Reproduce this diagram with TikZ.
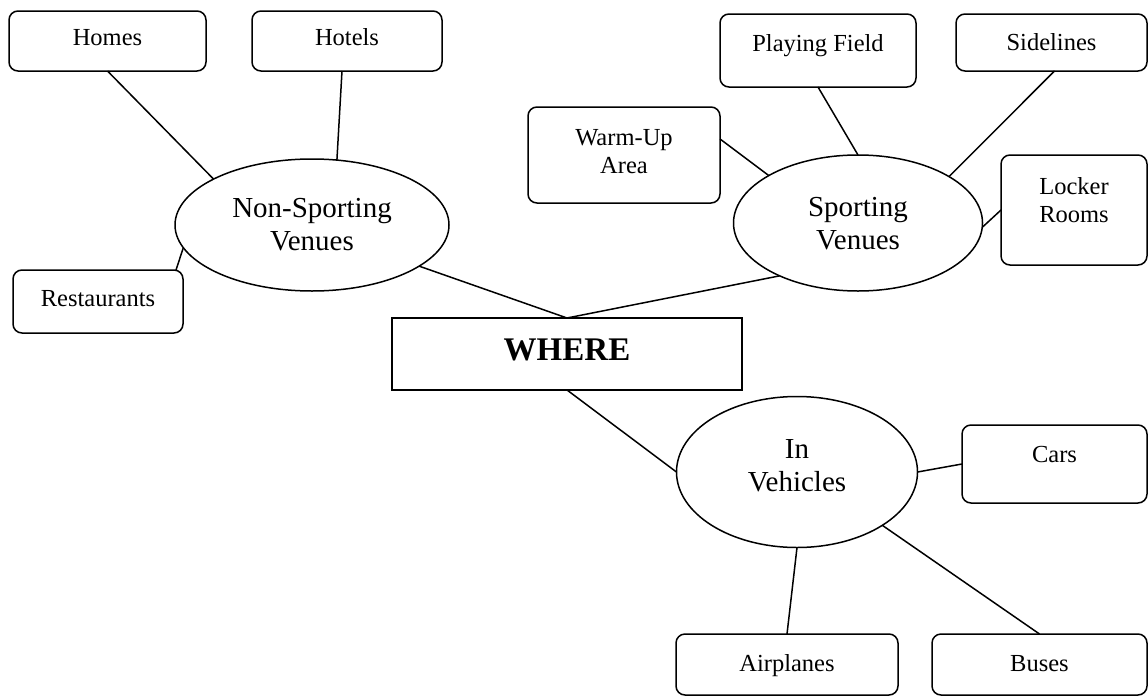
\documentclass[tikz,border=0pt]{standalone}
\usepackage{fontspec}
\setmainfont{Liberation Serif}
\usetikzlibrary{shapes.geometric}
\tikzset{
  every node/.style={inner sep=0pt, outer sep=0pt},
  smallfont/.style={font=\fontsize{24.5}{28}\selectfont, text height=16.2pt},
  box/.style={draw, line width=1.5pt, rounded corners=9pt, rectangle, align=center, smallfont},
  ell/.style={draw, line width=1.5pt, ellipse, align=center, font=\fontsize{29}{33}\selectfont},
  mainbox/.style={draw, line width=1.5pt, rectangle, font=\bfseries\fontsize{33}{38}\selectfont, text height=21.8pt},
  conn/.style={draw, line width=1.5pt}
}
\begin{document}
\begin{tikzpicture}[x=1pt,y=1pt]
\useasboundingbox (0,0) rectangle (1148,-696);
\clip (0,0) rectangle (1148,-696);
% non-sporting group
\node[box, minimum width=197pt, minimum height=60pt, text depth=6.6pt] (homes) at (107.5,-41) {Homes};
\node[box, minimum width=190pt, minimum height=60pt, text depth=6.6pt] (hotels) at (347,-41) {Hotels};
\node[box, minimum width=170pt, minimum height=63pt, text depth=7pt] (restaurants) at (98,-301.5) {Restaurants};
\node[ell, minimum width=274pt, minimum height=132pt, text height=52.2pt, text depth=1pt] (nsv) at (312,-225) {Non-Sporting\\Venues};
% center
\node[mainbox, minimum width=350pt, minimum height=72pt, text depth=8pt] (where) at (567,-354) {WHERE};
% sporting group
\node[box, minimum width=192pt, minimum height=96pt, text height=44.2pt, text depth=8pt] (warm) at (624,-155) {Warm-Up\\Area};
\node[box, minimum width=196pt, minimum height=73pt, text depth=15pt] (pf) at (818,-50.5) {Playing Field};
\node[box, minimum width=191pt, minimum height=57pt, text depth=1pt] (side) at (1051.5,-42.5) {Sidelines};
\node[ell, minimum width=249pt, minimum height=136pt, text height=52.2pt, text depth=0pt] (sv) at (858,-223) {Sporting\\Venues};
\node[box, minimum width=146pt, minimum height=110pt, text height=43.2pt, text depth=18pt] (locker) at (1074,-210) {Locker\\Rooms};
% vehicles group
\node[ell, minimum width=241pt, minimum height=151pt, text height=52.2pt, text depth=14pt] (iv) at (797,-472) {In\\Vehicles};
\node[box, minimum width=185pt, minimum height=78pt, text depth=20pt] (cars) at (1054.5,-464) {Cars};
\node[box, minimum width=222pt, minimum height=61pt, text depth=3pt] (air) at (787,-664.5) {Airplanes};
\node[box, minimum width=215pt, minimum height=61pt, text depth=3pt] (buses) at (1039.5,-664.5) {Buses};
% connectors
\draw[conn] (homes.south) -- (nsv.155);
\draw[conn] ([xshift=-5pt]hotels.south) -- (nsv.69.3);
\draw[conn] ([xshift=-7pt]restaurants.north east) -- (nsv.190.6);
\draw[conn] (nsv.-21) -- (where.north);
\draw[conn] (where.north) -- (sv.214.6);
\draw[conn] (where.south) -- (iv.180);
\draw[conn] ([yshift=16pt]warm.east) -- (sv.152.1);
\draw[conn] (pf.south) -- (sv.90);
\draw[conn] ([xshift=3pt]side.south) -- (sv.27.6);
\draw[conn] (locker.west) -- (sv.-2.3);
\draw[conn] (cars.west) -- (iv.0);
\draw[conn] (air.north) -- (iv.-90);
\draw[conn] (buses.north) -- (iv.-32.6);
\end{tikzpicture}
\end{document}
